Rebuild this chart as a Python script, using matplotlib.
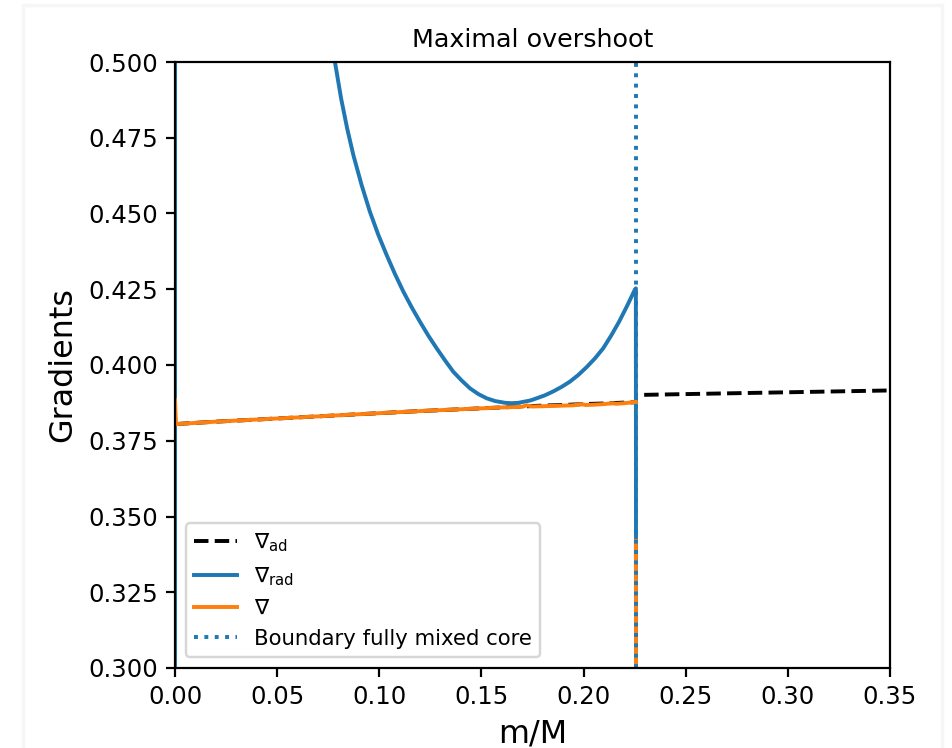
""" Gradients in the core for the maximal overshoot case. """

import matplotlib
matplotlib.use("Agg")
import matplotlib.pyplot as plt
import numpy as np
from matplotlib.patches import Rectangle


S = 1.76  # the original was drawn at a larger scale
M_BOUNDARY = 0.2256

# adiabatic gradient (core, then envelope side of the boundary)
m_ad = [0.0, 0.02, 0.04, 0.06, 0.08, 0.10, 0.12, 0.14, 0.16, 0.17, 0.18,
        0.19, 0.20, 0.21, 0.22, 0.2256, 0.2257, 0.25, 0.30, 0.35]
nabla_ad = [0.3805, 0.3813, 0.3820, 0.3827, 0.3834, 0.3841, 0.3848, 0.3854,
            0.3860, 0.3863, 0.3866, 0.3868, 0.3871, 0.3873, 0.3876, 0.3877,
            0.3901, 0.3904, 0.3910, 0.3916]

# radiative gradient
m_rad = [0.0, 0.0005, 0.03, 0.06, 0.0783, 0.0813, 0.0843, 0.0873, 0.0913,
         0.0954, 0.0995, 0.1036, 0.1077, 0.1118, 0.1159, 0.1199, 0.1240,
         0.1281, 0.1322, 0.1362, 0.1403, 0.1444, 0.1485, 0.1526, 0.1567,
         0.1617, 0.1648, 0.1679, 0.1740, 0.1770, 0.1811, 0.1852, 0.1893,
         0.1933, 0.1974, 0.2015, 0.2056, 0.2096, 0.2135, 0.2174, 0.2213,
         0.2252, 0.2256, 0.2257, 0.35]
nabla_rad = [0.20, 5.0, 1.20, 0.62, 0.500, 0.488, 0.478, 0.4693, 0.4595,
             0.4506, 0.4430, 0.4363, 0.4300, 0.4242, 0.4190, 0.4143, 0.4097,
             0.4055, 0.4015, 0.3978, 0.3949, 0.3923, 0.3904, 0.3890, 0.3881,
             0.3875, 0.3874, 0.3875, 0.3883, 0.3890, 0.3900, 0.3913, 0.3928,
             0.3945, 0.3967, 0.3993, 0.4022, 0.4055, 0.4097, 0.4143, 0.4195,
             0.4250, 0.4253, 0.28, 0.20]

# actual gradient
m_nabla = [0.0, 0.0005, 0.02, 0.04, 0.06, 0.08, 0.10, 0.12, 0.14, 0.16,
           0.17, 0.172, 0.175, 0.18, 0.185, 0.19, 0.195, 0.199, 0.201, 0.205,
           0.21, 0.214, 0.216, 0.22, 0.2256, np.nan, 0.2256, 0.2257, 0.35]
nabla = [0.3884, 0.3805, 0.3813, 0.3820, 0.3827, 0.3834, 0.3841, 0.3848,
         0.3854, 0.3860, 0.3862, 0.3867, 0.3863, 0.3864, 0.3865, 0.3866,
         0.3867, 0.3871, 0.3868, 0.3869, 0.3871, 0.3874, 0.3872, 0.3874,
         0.3878, np.nan, 0.342, 0.28, 0.20]


plt.rcParams.update({
    "lines.linewidth": 1.6 * S,
    "axes.linewidth": 0.9 * S,
    "xtick.major.size": 3.5 * S,
    "ytick.major.size": 3.5 * S,
    "xtick.major.width": 0.9 * S,
    "ytick.major.width": 0.9 * S,
    "xtick.major.pad": 3.5 * S,
    "ytick.major.pad": 3.5 * S,
    "xtick.labelsize": 10 * S,
    "ytick.labelsize": 10 * S,
    "legend.fontsize": 8.7 * S,
    "patch.linewidth": 1.0 * S,
})

fig = plt.figure(figsize=(9.53, 7.48), dpi=100)
ax = fig.add_axes([175 / 953, 80 / 748, 715 / 953, 606 / 748])

# faint frame of the screenshot
fig.patches.append(Rectangle((23 / 953, -0.05), 919 / 953, (743 / 748) + 0.05,
                             transform=fig.transFigure, fill=False,
                             edgecolor="#f6f6f6", lw=2.5))

ax.plot(m_ad, nabla_ad, "k--", label=r"$\nabla_{\rm ad}$")
ax.plot(m_rad, nabla_rad, color="C0", label=r"$\nabla_{\rm rad}$")
ax.plot(m_nabla, nabla, color="C1", label=r"$\nabla$")
ax.axvline(M_BOUNDARY, color="C0", ls=":", label="Boundary fully mixed core")

ax.set_xlim(0, 0.35)
ax.set_ylim(0.3, 0.5)
ax.set_title("Maximal overshoot", fontsize=10.4 * S, pad=6 * S)
ax.set_xlabel("m/M", fontsize=13 * S, labelpad=4 * S)
ax.set_ylabel("Gradients", fontsize=13 * S, labelpad=4 * S)
ax.legend(loc="lower left")

fig.savefig("out.png", dpi=100)
